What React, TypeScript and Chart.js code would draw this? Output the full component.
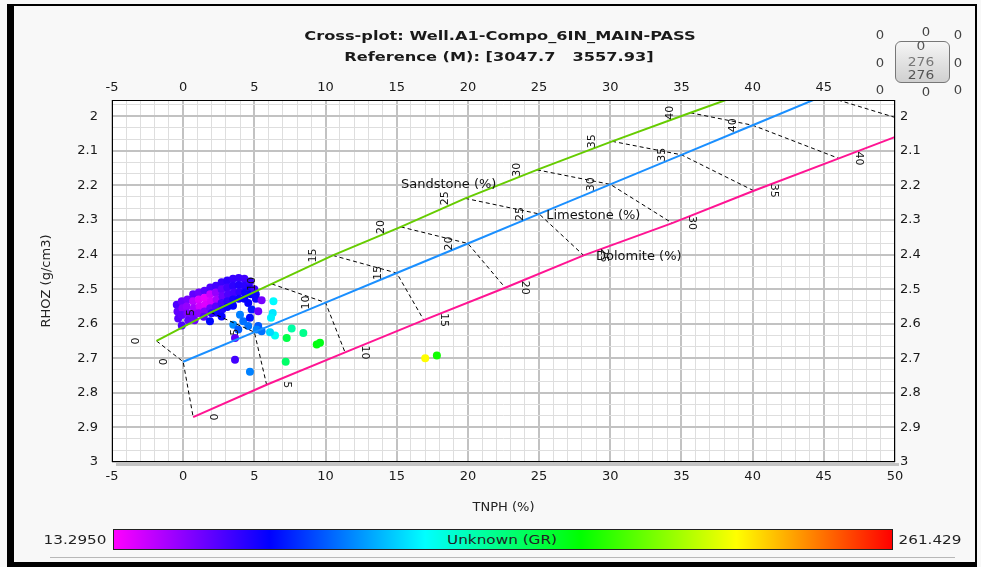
import React, { useEffect, useRef } from 'react';
import { Chart, registerables } from 'chart.js';

Chart.register(...registerables);

const FONT = '"DejaVu Sans", Verdana, sans-serif';

// ---- Axes ----
const X_MIN = -5;
const X_MAX = 50;
const Y_MIN = 1.953;
const Y_MAX = 3;
const X_TICKS = [-5, 0, 5, 10, 15, 20, 25, 30, 35, 40, 45, 50];
const X_TOP_TICKS = [-5, 0, 5, 10, 15, 20, 25, 30, 35, 40, 45];
const Y_TICKS = [2, 2.1, 2.2, 2.3, 2.4, 2.5, 2.6, 2.7, 2.8, 2.9, 3];

// ---- Lithology overlay (porosity 0,5,...,45 %) ----
const POROSITY_LABELS = ['0', '5', '10', '15', '20', '25', '30', '35', '40'];
const SANDSTONE_TNPH = [-1.87, 1.95, 6.22, 10.51, 15.29, 19.81, 24.85, 30.13, 35.63, 41.2];
const SANDSTONE_RHOZ = [2.65, 2.5675, 2.485, 2.4025, 2.32, 2.2375, 2.155, 2.0725, 1.99, 1.9075];
const LIMESTONE_TNPH = [0, 5, 10, 15, 20, 25, 30, 35, 40, 45];
const LIMESTONE_RHOZ = [2.71, 2.6245, 2.539, 2.4535, 2.368, 2.2825, 2.197, 2.1115, 2.026, 1.9405];
const DOLOMITE_TNPH = [0.7, 5.86, 11.37, 16.9, 22.62, 28.13, 34.35, 40.08, 46.06, 52.0];
const DOLOMITE_RHOZ = [2.87, 2.7765, 2.683, 2.5895, 2.496, 2.4025, 2.309, 2.2155, 2.122, 2.0285];

const LITHO_NAMES = ['Sandstone (%)', 'Limestone (%)', 'Dolomite (%)'];
const LITHO_LABEL_TNPH = [15.3, 25.5, 29.0];
const LITHO_LABEL_RHOZ = [2.198, 2.288, 2.406];

// ---- Well data: TNPH (%), RHOZ (g/cm3), colour by GR ----
const TNPH = [
  -0.45, -0.4, -0.35, -0.1, -0.05, -0.1, -0.1, 0.3, 0.25, 0.3, 0.35,
  0.7, 0.7, 0.75, 0.7, 0.8, 1.1, 1.1, 1.15, 1.1, 1.5, 1.5, 1.55, 1.5, 1.45,
  1.9, 1.9, 1.95, 1.9, 2.0, 2.3, 2.3, 2.35, 2.3, 2.35, 2.7, 2.7, 2.75, 2.7, 2.75,
  3.1, 3.1, 3.15, 3.1, 3.1, 3.5, 3.5, 3.55, 3.5, 3.5, 3.9, 3.9, 3.95, 3.9,
  4.3, 4.3, 4.35, 4.3, 4.7, 4.7, 4.75, 5.0, 5.1,
  1.88, 2.7, 3.52, 3.99, 4.22, 4.57, 5.27, 5.16, 5.51, 3.87, 4.69, 4.57, 4.81, 5.11,
  3.64, 5.51, 5.27, 6.34, 6.29, 6.17, 7.62, 8.44, 7.27, 6.45, 6.1, 9.38, 9.61,
  3.64, 7.2, 4.69, 17.0, 17.82,
];
const RHOZ = [
  2.545, 2.565, 2.585, 2.535, 2.555, 2.575, 2.605, 2.53, 2.55, 2.57, 2.59,
  2.515, 2.535, 2.555, 2.575, 2.59, 2.51, 2.53, 2.55, 2.57, 2.505, 2.525, 2.545, 2.565, 2.58,
  2.495, 2.515, 2.535, 2.555, 2.57, 2.49, 2.51, 2.53, 2.55, 2.568, 2.48, 2.5, 2.52, 2.54, 2.558,
  2.475, 2.495, 2.515, 2.535, 2.552, 2.47, 2.49, 2.51, 2.53, 2.548, 2.468, 2.488, 2.508, 2.528,
  2.47, 2.49, 2.51, 2.528, 2.478, 2.498, 2.515, 2.5, 2.515,
  2.593, 2.579, 2.603, 2.574, 2.593, 2.607, 2.607, 2.617, 2.622, 2.617, 2.583, 2.54, 2.559, 2.528,
  2.641, 2.532, 2.564, 2.535, 2.569, 2.583, 2.614, 2.627, 2.641, 2.634, 2.625, 2.66, 2.655,
  2.704, 2.71, 2.739, 2.7, 2.692,
];
const GR = [
  48, 44, 46, 42, 36, 44, 48, 40, 34, 38, 44,
  44, 26, 30, 40, 42, 42, 20, 22, 36, 46, 18, 20, 38, 46,
  48, 24, 22, 42, 54, 50, 34, 30, 46, 60, 52, 44, 42, 50, 58,
  54, 50, 48, 54, 62, 52, 54, 50, 58, 63, 52, 56, 54, 60,
  50, 55, 60, 62, 52, 58, 63, 50, 60,
  64, 62, 90, 88, 85, 85, 80, 88, 85, 80, 65, 62, 68, 60,
  45, 40, 42, 112, 108, 110, 130, 135, 148, 115, 105, 160, 158,
  50, 142, 88, 212, 165,
];
const GR_MIN = 13.295;
const GR_MAX = 261.429;
const GR_MIN_LABEL = '13.2950';
const GR_MAX_LABEL = '261.429';
const POINT_COUNT_LABELS = ['0', '276', '276'];

const RAINBOW: [number, number[]][] = [
  [0, [255, 0, 255]],
  [0.2, [0, 0, 255]],
  [0.4, [0, 255, 255]],
  [0.6, [0, 255, 0]],
  [0.8, [255, 255, 0]],
  [1, [255, 0, 0]],
];

function grColor(gr: number): string {
  const f = Math.min(1, Math.max(0, (gr - GR_MIN) / (GR_MAX - GR_MIN)));
  for (let i = 1; i < RAINBOW.length; i++) {
    const [f0, c0] = RAINBOW[i - 1];
    const [f1, c1] = RAINBOW[i];
    if (f <= f1) {
      const t = (f - f0) / (f1 - f0);
      return `rgb(${c0.map((c, j) => Math.round(c + (c1[j] - c) * t)).join(',')})`;
    }
  }
  return 'rgb(255,0,0)';
}

const pts = (xs: number[], ys: number[]) => xs.map((x, i) => ({ x, y: ys[i] }));

const isMajorX = (v: number) => Math.abs(v / 5 - Math.round(v / 5)) < 1e-6;
const isMajorY = (v: number) => Math.abs(v * 10 - Math.round(v * 10)) < 1e-6;

const MAJOR_GRID = '#c2c2c2';
const MINOR_GRID = '#dedede';

const overlayPlugin = {
  id: 'overlay',
  afterDatasetsDraw(chart: any) {
    const { ctx, chartArea: a, scales } = chart;
    const xs = scales.x;
    const ys = scales.y;
    ctx.save();
    ctx.beginPath();
    ctx.rect(a.left, a.top, a.right - a.left, a.bottom - a.top);
    ctx.clip();
    ctx.fillStyle = '#111';
    ctx.font = `11px ${FONT}`;
    ctx.textAlign = 'center';
    ctx.textBaseline = 'middle';
    const groups: [number[], number[], number, number][] = [
      [SANDSTONE_TNPH, SANDSTONE_RHOZ, -20, -Math.PI / 2],
      [LIMESTONE_TNPH, LIMESTONE_RHOZ, -19, -Math.PI / 2],
      [DOLOMITE_TNPH, DOLOMITE_RHOZ, 20, Math.PI / 2],
    ];
    groups.forEach(([tn, rh, dx, rot]) => {
      POROSITY_LABELS.forEach((lab, i) => {
        const px = xs.getPixelForValue(tn[i]) + dx;
        const py = ys.getPixelForValue(rh[i]);
        ctx.save();
        ctx.translate(px, py);
        ctx.rotate(rot);
        ctx.fillText(lab, 0, 0);
        ctx.restore();
      });
    });
    ctx.font = `13px ${FONT}`;
    ctx.textAlign = 'left';
    LITHO_NAMES.forEach((name, i) => {
      ctx.fillText(name, xs.getPixelForValue(LITHO_LABEL_TNPH[i]), ys.getPixelForValue(LITHO_LABEL_RHOZ[i]));
    });
    ctx.restore();

    ctx.save();
    ctx.fillStyle = '#c4c4c4';
    ctx.fillRect(a.left + 4, a.bottom + 1, a.right - a.left, 3);
    ctx.strokeStyle = '#000';
    ctx.lineWidth = 1;
    ctx.strokeRect(a.left + 0.5, a.top + 0.5, a.right - a.left - 1, a.bottom - a.top - 1);
    ctx.restore();
  },
};

const tickFont = { family: FONT, size: 13 };

const gridColorX = (c: any) => (c && c.tick && isMajorX(c.tick.value) ? MAJOR_GRID : MINOR_GRID);
const gridWidthX = (c: any) => (c && c.tick && isMajorX(c.tick.value) ? 2 : 1);
const gridColorY = (c: any) => (c && c.tick && isMajorY(c.tick.value) ? MAJOR_GRID : MINOR_GRID);
const gridWidthY = (c: any) => (c && c.tick && isMajorY(c.tick.value) ? 2 : 1);

export default function App() {
  const ref = useRef<HTMLCanvasElement>(null);

  useEffect(() => {
    const canvas = ref.current;
    if (!canvas) return;
    const isoSets = LIMESTONE_TNPH.map((_, j) => ({
      data: [
        { x: SANDSTONE_TNPH[j], y: SANDSTONE_RHOZ[j] },
        { x: LIMESTONE_TNPH[j], y: LIMESTONE_RHOZ[j] },
        { x: DOLOMITE_TNPH[j], y: DOLOMITE_RHOZ[j] },
      ],
      showLine: true,
      borderColor: '#000',
      borderWidth: 1,
      borderDash: [4, 3],
      pointRadius: 0,
      fill: false,
      order: 5,
    }));
    const chart = new Chart(canvas, {
      type: 'scatter',
      data: {
        datasets: [
          {
            data: pts(TNPH, RHOZ),
            backgroundColor: GR.map(grColor),
            pointRadius: 4,
            pointBorderWidth: 0,
            borderWidth: 0,
            order: 10,
          } as any,
          ...isoSets,
          { data: pts(SANDSTONE_TNPH, SANDSTONE_RHOZ), showLine: true, borderColor: '#66cc00', borderWidth: 2, pointRadius: 0, order: 1 },
          { data: pts(LIMESTONE_TNPH, LIMESTONE_RHOZ), showLine: true, borderColor: '#1a8fff', borderWidth: 2, pointRadius: 0, order: 1 },
          { data: pts(DOLOMITE_TNPH, DOLOMITE_RHOZ), showLine: true, borderColor: '#ff1493', borderWidth: 2, pointRadius: 0, order: 1 },
        ],
      },
      options: {
        responsive: false,
        devicePixelRatio: 1,
        animation: false,
        events: [],
        layout: { padding: 0 },
        plugins: { legend: { display: false }, tooltip: { enabled: false } },
        scales: {
          x: {
            type: 'linear',
            position: 'bottom',
            min: X_MIN,
            max: X_MAX,
            afterBuildTicks: (s: any) => {
              const t = [];
              for (let v = X_MIN; v <= X_MAX; v++) t.push({ value: v });
              s.ticks = t;
            },
            afterFit: (s: any) => { s.height = 105; },
            ticks: {
              autoSkip: false,
              maxRotation: 0,
              padding: 7,
              color: '#1a1a1a',
              font: tickFont,
              callback: (v: any) => (X_TICKS.includes(v) ? String(v) : ''),
            },
            grid: { display: true, drawOnChartArea: true, drawTicks: false, color: gridColorX, lineWidth: gridWidthX },
            border: { display: false },
            title: { display: true, text: 'TNPH (%)', color: '#222', font: tickFont, padding: { top: 0, bottom: 52 } },
          },
          xTop: {
            type: 'linear',
            axis: 'x',
            position: 'top',
            min: X_MIN,
            max: X_MAX,
            afterBuildTicks: (s: any) => { s.ticks = X_TOP_TICKS.map((v) => ({ value: v })); },
            afterFit: (s: any) => { s.height = 100; },
            ticks: { autoSkip: false, maxRotation: 0, padding: 5, color: '#1a1a1a', font: tickFont, callback: (v: any) => String(v) },
            grid: { display: false, drawTicks: false },
            border: { display: false },
          },
          y: {
            type: 'linear',
            position: 'left',
            reverse: true,
            min: Y_MIN,
            max: Y_MAX,
            afterBuildTicks: (s: any) => {
              const t = [];
              for (let k = -1; k <= 30; k++) t.push({ value: 2 + k / 30 });
              s.ticks = t;
            },
            afterFit: (s: any) => { s.width = 112; },
            ticks: {
              autoSkip: false,
              padding: 14,
              color: '#1a1a1a',
              font: tickFont,
              callback: (v: any) => {
                const m = Y_TICKS.find((t) => Math.abs(t - v) < 1e-6);
                return m === undefined ? '' : String(m);
              },
            },
            grid: { display: true, drawOnChartArea: true, drawTicks: false, color: gridColorY, lineWidth: gridWidthY },
            border: { display: false },
            title: { display: true, text: 'RHOZ (g/cm3)', color: '#222', font: tickFont, padding: { top: 39, bottom: 0 } },
          },
          yRight: {
            type: 'linear',
            axis: 'y',
            position: 'right',
            reverse: true,
            min: Y_MIN,
            max: Y_MAX,
            afterBuildTicks: (s: any) => { s.ticks = Y_TICKS.map((v) => ({ value: v })); },
            afterFit: (s: any) => { s.width = 86; },
            ticks: { autoSkip: false, padding: 5, color: '#1a1a1a', font: tickFont, callback: (v: any) => String(v) },
            grid: { display: false, drawTicks: false },
            border: { display: false },
          },
        },
      } as any,
      plugins: [overlayPlugin],
    });
    return () => chart.destroy();
  }, []);

  const gradient = `linear-gradient(to right, ${RAINBOW.map(([f, c]) => `rgb(${c.join(',')}) ${f * 100}%`).join(', ')})`;
  const abs = (l: number, t: number, extra: any = {}) => ({ position: 'absolute' as const, left: l, top: t, ...extra });
  const centered = (x: number, y: number, sx = 1.27) => ({
    position: 'absolute' as const,
    left: x,
    top: y,
    transform: `translate(-50%, -50%) scaleX(${sx})`,
    whiteSpace: 'pre' as const,
    lineHeight: 1,
  });
  const zeroPos: [number, number][] = [
    [880, 35], [926, 32], [958, 35], [880, 63], [958, 63], [880, 90], [926, 92], [958, 90],
  ];

  return (
    <div style={{ position: 'fixed', left: 0, top: 0, width: 981, height: 567, background: '#f8f8f8', overflow: 'hidden', fontFamily: FONT, color: '#222' }}>
      {/* white plot background behind the canvas */}
      <div style={abs(112, 100, { width: 783, height: 362, background: '#ffffff' })} />
      <canvas ref={ref} width={981} height={567} style={{ position: 'absolute', left: 0, top: 0, width: 981, height: 567 }} />
      {/* frame */}
      <div style={abs(7, 4, { width: 7, height: 560, background: '#000' })} />
      <div style={abs(7, 4, { width: 970, height: 2, background: '#000' })} />
      <div style={abs(975, 4, { width: 2, height: 560, background: '#000' })} />
      <div style={abs(7, 562, { width: 970, height: 5, background: '#000' })} />
      {/* title */}
      <div style={{ ...centered(500, 36, 1.35), fontWeight: 'bold', fontSize: 12, color: '#1a1a1a' }}>Cross-plot: Well.A1-Compo_6IN_MAIN-PASS</div>
      <div style={{ ...centered(499, 57, 1.35), fontWeight: 'bold', fontSize: 12, color: '#1a1a1a' }}>{'Reference (M): [3047.7   3557.93]'}</div>
      {/* point counter widget */}
      <div style={abs(895, 41, { width: 55, height: 42, border: '1px solid #777', borderRadius: 6, background: 'linear-gradient(#f6f6f6, #e2e2e2 50%, #d0d0d0)', boxSizing: 'border-box' })} />
      <div style={{ ...centered(921, 46, 1.15), fontSize: 12, color: '#555' }}>{POINT_COUNT_LABELS[0]}</div>
      <div style={{ ...centered(921, 62, 1.15), fontSize: 12, color: '#777' }}>{POINT_COUNT_LABELS[1]}</div>
      <div style={{ ...centered(921, 75, 1.15), fontSize: 12, color: '#555' }}>{POINT_COUNT_LABELS[2]}</div>
      {zeroPos.map(([x, y], i) => (
        <div key={i} style={{ ...centered(x, y, 1.1), fontSize: 12, color: '#444' }}>0</div>
      ))}
      {/* colour bar */}
      <div style={abs(113, 529, { width: 780, height: 21, background: gradient, border: '1px solid #222', boxSizing: 'border-box' })} />
      <div style={{ ...centered(502, 540), fontSize: 12, color: '#222' }}>Unknown (GR)</div>
      <div style={{ ...centered(75, 540), fontSize: 12, color: '#222' }}>{GR_MIN_LABEL}</div>
      <div style={{ ...centered(930, 540), fontSize: 12, color: '#222' }}>{GR_MAX_LABEL}</div>
      <div style={abs(50, 557, { width: 905, height: 1, background: '#b8b8b8' })} />
    </div>
  );
}
